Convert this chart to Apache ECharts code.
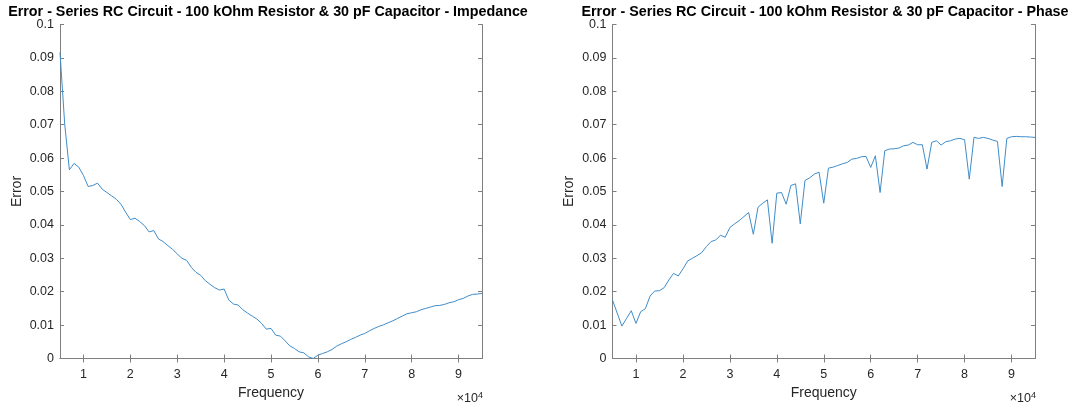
<!DOCTYPE html>
<html>
<head>
<meta charset="utf-8">
<script src="https://cdn.jsdelivr.net/npm/echarts@6/dist/echarts.min.js"></script>
<style>
  html, body { margin: 0; padding: 0; background: #fff; }
  #chart { width: 1074px; height: 403px; }
</style>
</head>
<body>
<div id="chart"></div>
<script>
// Sweep frequencies (Hz)
const frequency = [
  5000, 6000, 7000, 8000, 9000, 10000, 11000, 12000, 13000, 14000,
  15000, 16000, 17000, 18000, 19000, 20000, 21000, 22000, 23000, 24000,
  25000, 26000, 27000, 28000, 29000, 30000, 31000, 32000, 33000, 34000,
  35000, 36000, 37000, 38000, 39000, 40000, 41000, 42000, 43000, 44000,
  45000, 46000, 47000, 48000, 49000, 50000, 51000, 52000, 53000, 54000,
  55000, 56000, 57000, 58000, 59000, 60000, 61000, 62000, 63000, 64000,
  65000, 66000, 67000, 68000, 69000, 70000, 71000, 72000, 73000, 74000,
  75000, 76000, 77000, 78000, 79000, 80000, 81000, 82000, 83000, 84000,
  85000, 86000, 87000, 88000, 89000, 90000, 91000, 92000, 93000, 94000,
  95000
];

// Relative error of the measured impedance magnitude
const impedanceError = [
  0.0916, 0.0702, 0.0565, 0.0584, 0.0573, 0.0548, 0.0515, 0.0518, 0.0525, 0.0507,
  0.0497, 0.0487, 0.0477, 0.0462, 0.0438, 0.0416, 0.0420, 0.0410, 0.0398, 0.0379,
  0.0383, 0.0358, 0.0350, 0.0338, 0.0327, 0.0313, 0.0300, 0.0294, 0.0273, 0.0258,
  0.0249, 0.0233, 0.0222, 0.0212, 0.0205, 0.0208, 0.0175, 0.0163, 0.0160, 0.0146,
  0.0136, 0.0127, 0.0118, 0.0105, 0.0088, 0.0090, 0.0070, 0.0067, 0.0053, 0.0038,
  0.0030, 0.0020, 0.0017, 0.0005, 0.0000, 0.0010, 0.0015, 0.0020, 0.0027, 0.0037,
  0.0044, 0.0050, 0.0057, 0.0063, 0.0070, 0.0075, 0.0083, 0.0090, 0.0096, 0.0101,
  0.0107, 0.0113, 0.0120, 0.0127, 0.0134, 0.0137, 0.0140, 0.0146, 0.0150, 0.0154,
  0.0158, 0.0159, 0.0162, 0.0167, 0.0170, 0.0176, 0.0180, 0.0187, 0.0192, 0.0193,
  0.0195
];

// Relative error of the measured phase
const phaseError = [
  0.0175, 0.0136, 0.0097, 0.0120, 0.0143, 0.0105, 0.0140, 0.0149, 0.0187, 0.0202,
  0.0203, 0.0212, 0.0235, 0.0255, 0.0247, 0.0268, 0.0292, 0.0300, 0.0308, 0.0317,
  0.0335, 0.0350, 0.0355, 0.0369, 0.0363, 0.0392, 0.0403, 0.0413, 0.0425, 0.0437,
  0.0372, 0.0453, 0.0465, 0.0475, 0.0345, 0.0495, 0.0497, 0.0462, 0.0518, 0.0523,
  0.0403, 0.0533, 0.0541, 0.0552, 0.0558, 0.0465, 0.0570, 0.0573, 0.0578, 0.0583,
  0.0587, 0.0597, 0.0599, 0.0604, 0.0605, 0.0572, 0.0607, 0.0497, 0.0622, 0.0627,
  0.0628, 0.0630, 0.0637, 0.0639, 0.0647, 0.0640, 0.0640, 0.0567, 0.0647, 0.0652,
  0.0639, 0.0649, 0.0652, 0.0657, 0.0659, 0.0655, 0.0537, 0.0662, 0.0659, 0.0662,
  0.0659, 0.0654, 0.0650, 0.0515, 0.0659, 0.0664, 0.0665, 0.0664, 0.0664, 0.0663,
  0.0662
];

// Tick positions
const freqTicks = [10000, 20000, 30000, 40000, 50000, 60000, 70000, 80000, 90000];
const errorTicks = [0, 0.01, 0.02, 0.03, 0.04, 0.05, 0.06, 0.07, 0.08, 0.09, 0.1];

const titles = [
  'Error - Series RC Circuit - 100 kOhm Resistor & 30 pF Capacitor - Impedance',
  'Error - Series RC Circuit - 100 kOhm Resistor & 30 pF Capacitor - Phase'
];

const FONT = '"Liberation Sans", Arial, Helvetica, sans-serif';
const AXIS_COLOR = '#7f7f7f';
const TEXT_COLOR = '#262626';
const LINE_COLOR = '#3f8dca';

const grids = [
  { left: 60, right: 592, top: 24.5, bottom: 44.5, outerBoundsMode: 'none', containLabel: false },
  { left: 612.5, right: 39, top: 24.5, bottom: 44.5, outerBoundsMode: 'none', containLabel: false }
];
const titleCenters = [263, 820];

const chart = echarts.init(document.getElementById('chart'), null, { renderer: 'canvas' });

const xAxes = [];
const yAxes = [];
const series = [];
const titleOpts = [];
const graphics = [];

grids.forEach((g, i) => {
  const commonX = {
    type: 'value', gridIndex: i, min: 5000, max: 95000,
    axisLine: { show: true, lineStyle: { color: AXIS_COLOR, width: 1 } },
    axisTick: { show: true, inside: true, length: 4, customValues: freqTicks,
                lineStyle: { color: AXIS_COLOR } },
    splitLine: { show: false }
  };
  xAxes.push(Object.assign({}, commonX, {
    position: 'bottom',
    name: 'Frequency', nameLocation: 'middle', nameGap: 27.5,
    nameTextStyle: { fontFamily: FONT, fontSize: 14, color: TEXT_COLOR },
    axisLabel: { show: true, customValues: freqTicks, margin: 10,
                 fontFamily: FONT, fontSize: 12.5, color: TEXT_COLOR,
                 formatter: v => String(Math.round(v / 10000)) }
  }));
  xAxes.push(Object.assign({}, commonX, {
    position: 'top', axisLabel: { show: false }
  }));

  const commonY = {
    type: 'value', gridIndex: i, min: 0, max: 0.1, interval: 0.01,
    axisLine: { show: true, lineStyle: { color: AXIS_COLOR, width: 1 } },
    axisTick: { show: true, inside: true, length: 4, lineStyle: { color: AXIS_COLOR } },
    splitLine: { show: false }
  };
  yAxes.push(Object.assign({}, commonY, {
    position: 'left',
    name: 'Error', nameLocation: 'middle', nameGap: 36,
    nameTextStyle: { fontFamily: FONT, fontSize: 14, color: TEXT_COLOR },
    axisLabel: { show: true, margin: 6, fontFamily: FONT, fontSize: 12.5, color: TEXT_COLOR,
                 formatter: v => String(+v.toFixed(2)) }
  }));
  yAxes.push(Object.assign({}, commonY, {
    position: 'right', axisLabel: { show: false }
  }));

  const values = i === 0 ? impedanceError : phaseError;
  series.push({
    type: 'line',
    xAxisIndex: i * 2, yAxisIndex: i * 2,
    data: frequency.map((f, k) => [f, values[k]]),
    showSymbol: false, symbol: 'none',
    lineStyle: { color: LINE_COLOR, width: 1 },
    animation: false,
    silent: true
  });

  titleOpts.push({
    text: titles[i],
    left: titleCenters[i], textAlign: 'center', top: 0,
    textStyle: { fontFamily: FONT, fontSize: 14.3, fontWeight: 'bold', color: '#000' }
  });

  // exponent label of the frequency axis
  graphics.push({
    type: 'text', right: g.right - 1, top: 391,
    style: {
      text: '×10{sup|4}',
      font: '12.5px ' + FONT, fill: TEXT_COLOR,
      rich: { sup: { fontSize: 9, fontFamily: FONT, fill: TEXT_COLOR, verticalAlign: 'top', padding: [0, 0, 6, 0] } }
    }
  });
});

chart.setOption({
  animation: false,
  backgroundColor: '#ffffff',
  title: titleOpts,
  grid: grids,
  xAxis: xAxes,
  yAxis: yAxes,
  series: series,
  graphic: graphics
});
</script>
</body>
</html>
